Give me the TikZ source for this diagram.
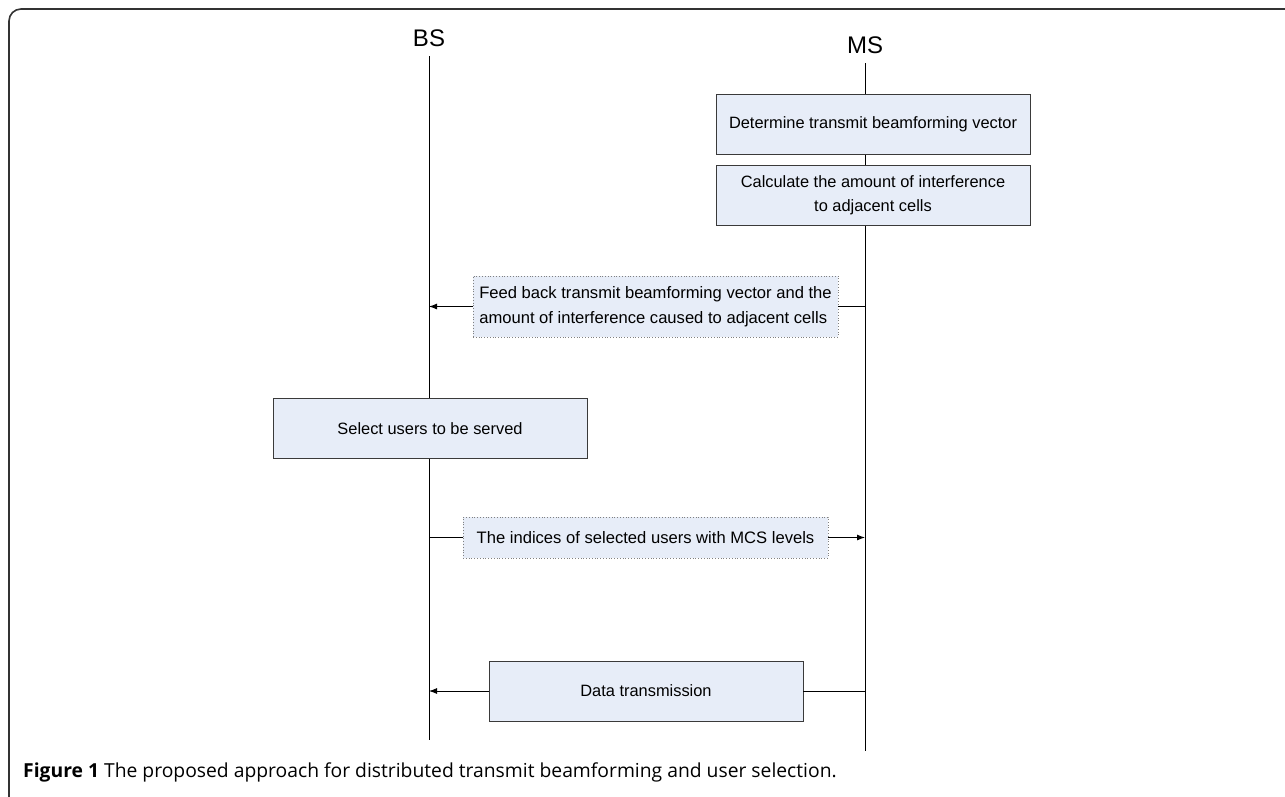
\documentclass[tikz,border=0pt]{standalone}
\usepackage{fontspec}
\setmainfont{Liberation Sans}
\newfontfamily\capfont{Open Sans}
\usetikzlibrary{arrows.meta}
\definecolor{boxfill}{HTML}{E7EDF8}
\definecolor{boxdraw}{HTML}{3A3A3A}
\tikzset{
  procbox/.style={draw=boxdraw, line width=0.9pt, fill=boxfill, minimum width=314pt, minimum height=60pt, inner sep=0pt, align=center, font=\fontsize{16.4}{24}\selectfont},
  msgbox/.style={draw=gray, dotted, line width=0.8pt, fill=boxfill, inner sep=0pt, align=left, font=\fontsize{16.6}{25}\selectfont},
  life/.style={line width=0.9pt, draw=black},
  msg/.style={line width=0.9pt, draw=black},
  msgarrow/.style={line width=0.9pt, draw=black, -{Latex[length=8pt,width=6pt]}},
  actor/.style={font=\fontsize{24}{26}\selectfont, inner sep=0pt}
}
\begin{document}
\begin{tikzpicture}[x=1pt,y=-1pt]
\useasboundingbox (0,0) rectangle (1285,796);
% frame
\draw[line width=1.6pt, rounded corners=12pt, draw=black!80] (1290,9) -- (9,9) -- (9,802);
% actors
\node[actor] (bs) at (429,38) {BS};
\node[actor] (ms) at (865,45) {MS};
\coordinate (bsTop) at (429,56);
\coordinate (bsBot) at (429,740);
\coordinate (msTop) at (865,63);
\coordinate (msBot) at (865,751);
\draw[life] (bsTop) -- (bsBot);
\draw[life] (msTop) -- (msBot);
% MS process boxes
\node[procbox] (det) at (873,124) {Determine transmit beamforming vector};
\node[procbox] (calc) at (873,195) {Calculate the amount of interference\\to adjacent cells};
% feedback message
\node[msgbox, minimum width=365pt, minimum height=61pt] (fb) at (655.5,306.5) {Feed back transmit beamforming vector and the\\amount of interference caused to adjacent cells};
\draw[msg] (fb.east -| msTop) -- (fb.east);
\draw[msgarrow] (fb.west) -- (fb.west -| bsTop);
% BS process box
\node[procbox] (sel) at (430,428.5) {Select users to be served};
% indices message
\node[msgbox, minimum width=365pt, minimum height=41pt] (idx) at (645.5,537.5) {The indices of selected users with MCS levels};
\draw[msg] (idx.west -| bsTop) -- (idx.west);
\draw[msgarrow] (idx.east) -- (idx.east -| msTop);
% data transmission
\node[procbox] (data) at (646,691) {Data transmission};
\draw[msg] (data.east -| msTop) -- (data.east);
\draw[msgarrow] (data.west) -- (data.west -| bsTop);
% caption
\node[anchor=west, inner sep=0pt, font=\capfont\fontsize{19.3}{21}\selectfont] (cap) at (23,772) {\textbf{Figure 1} The proposed approach for distributed transmit beamforming and user selection.};
\end{tikzpicture}
\end{document}
